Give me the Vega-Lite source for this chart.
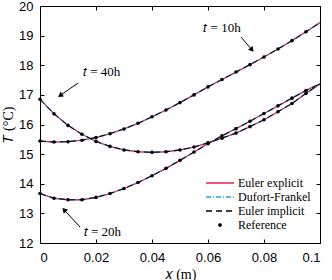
{
  "$schema": "https://vega.github.io/schema/vega-lite/v6.json",
  "width": 280,
  "height": 237,
  "autosize": "none",
  "padding": {"left": 40, "top": 6, "right": 12, "bottom": 37},
  "background": "white",
  "config": {
    "view": {"stroke": "black", "strokeWidth": 1},
    "axis": {
      "domainColor": "black", "tickColor": "black", "labelColor": "black",
      "labelFont": "Liberation Sans", "labelFontSize": 13,
      "titleFont": "Liberation Serif", "titleFontSize": 14, "titleFontWeight": "normal", "titleColor": "black",
      "grid": false, "tickSize": -4, "domainWidth": 1, "tickWidth": 1
    }
  },
  "datasets": {
    "curves": [
      {"t": "10h", "x": 0, "T": 15.44}, {"t": "10h", "x": 0.005, "T": 15.41}, {"t": "10h", "x": 0.01, "T": 15.42}, {"t": "10h", "x": 0.015, "T": 15.47}, {"t": "10h", "x": 0.02, "T": 15.56}, {"t": "10h", "x": 0.025, "T": 15.69}, {"t": "10h", "x": 0.03, "T": 15.85}, {"t": "10h", "x": 0.035, "T": 16.04}, {"t": "10h", "x": 0.04, "T": 16.26}, {"t": "10h", "x": 0.045, "T": 16.49}, {"t": "10h", "x": 0.05, "T": 16.74}, {"t": "10h", "x": 0.055, "T": 17.0}, {"t": "10h", "x": 0.06, "T": 17.27}, {"t": "10h", "x": 0.065, "T": 17.52}, {"t": "10h", "x": 0.07, "T": 17.77}, {"t": "10h", "x": 0.075, "T": 18.02}, {"t": "10h", "x": 0.08, "T": 18.28}, {"t": "10h", "x": 0.085, "T": 18.55}, {"t": "10h", "x": 0.09, "T": 18.83}, {"t": "10h", "x": 0.095, "T": 19.13}, {"t": "10h", "x": 0.1, "T": 19.44},
      {"t": "20h", "x": 0, "T": 13.67}, {"t": "20h", "x": 0.005, "T": 13.51}, {"t": "20h", "x": 0.01, "T": 13.46}, {"t": "20h", "x": 0.015, "T": 13.46}, {"t": "20h", "x": 0.02, "T": 13.54}, {"t": "20h", "x": 0.025, "T": 13.67}, {"t": "20h", "x": 0.03, "T": 13.84}, {"t": "20h", "x": 0.035, "T": 14.04}, {"t": "20h", "x": 0.04, "T": 14.27}, {"t": "20h", "x": 0.045, "T": 14.52}, {"t": "20h", "x": 0.05, "T": 14.79}, {"t": "20h", "x": 0.055, "T": 15.07}, {"t": "20h", "x": 0.06, "T": 15.35}, {"t": "20h", "x": 0.065, "T": 15.62}, {"t": "20h", "x": 0.07, "T": 15.86}, {"t": "20h", "x": 0.075, "T": 16.11}, {"t": "20h", "x": 0.08, "T": 16.37}, {"t": "20h", "x": 0.085, "T": 16.63}, {"t": "20h", "x": 0.09, "T": 16.89}, {"t": "20h", "x": 0.095, "T": 17.15}, {"t": "20h", "x": 0.1, "T": 17.37},
      {"t": "40h", "x": 0, "T": 16.85}, {"t": "40h", "x": 0.005, "T": 16.36}, {"t": "40h", "x": 0.01, "T": 15.97}, {"t": "40h", "x": 0.015, "T": 15.67}, {"t": "40h", "x": 0.02, "T": 15.43}, {"t": "40h", "x": 0.025, "T": 15.26}, {"t": "40h", "x": 0.03, "T": 15.14}, {"t": "40h", "x": 0.035, "T": 15.08}, {"t": "40h", "x": 0.04, "T": 15.06}, {"t": "40h", "x": 0.045, "T": 15.08}, {"t": "40h", "x": 0.05, "T": 15.14}, {"t": "40h", "x": 0.055, "T": 15.24}, {"t": "40h", "x": 0.06, "T": 15.38}, {"t": "40h", "x": 0.065, "T": 15.54}, {"t": "40h", "x": 0.07, "T": 15.71}, {"t": "40h", "x": 0.075, "T": 15.93}, {"t": "40h", "x": 0.08, "T": 16.16}, {"t": "40h", "x": 0.085, "T": 16.43}, {"t": "40h", "x": 0.09, "T": 16.71}, {"t": "40h", "x": 0.095, "T": 17.05}, {"t": "40h", "x": 0.1, "T": 17.37}
    ],
    "notes": [
      {"label": "10h", "text": "𝑡 = 10h", "x": 0.0718, "T": 18.95, "x2": 0.0757, "T2": 18.52, "tx": 0.065, "tT": 19.26},
      {"label": "40h", "text": "𝑡 = 40h", "x": 0.0136, "T": 17.4, "x2": 0.0072, "T2": 16.98, "tx": 0.022, "tT": 17.78},
      {"label": "20h", "text": "𝑡 = 20h", "x": 0.0143, "T": 12.54, "x2": 0.0086, "T2": 13.12, "tx": 0.0223, "tT": 12.37}
    ]
  },
  "resolve": {"axis": {"x": "independent", "y": "independent"}},
  "layer": [
    {
      "data": {"name": "curves"},
      "mark": {"type": "line", "strokeWidth": 1.3},
      "encoding": {
        "x": {"field": "x", "type": "quantitative", "scale": {"domain": [0, 0.1], "nice": false},
          "axis": {"orient": "bottom", "values": [0, 0.02, 0.04, 0.06, 0.08, 0.1], "format": "~g", "title": "𝑥 (m)", "labelPadding": 12, "titlePadding": 3}},
        "y": {"field": "T", "type": "quantitative", "scale": {"domain": [12, 20], "nice": false, "zero": false},
          "axis": {"orient": "left", "values": [12, 13, 14, 15, 16, 17, 18, 19, 20], "format": "d", "title": "𝑇 (°C)", "labelPadding": 11, "titlePadding": 3}},
        "detail": {"field": "t"},
        "color": {"datum": "Euler explicit", "type": "nominal",
          "scale": {"domain": ["Euler explicit", "Dufort-Frankel", "Euler implicit", "Reference"], "range": ["#ee1c4e", "#22a3dd", "#000000", "#000000"]},
          "legend": {
            "title": null, "orient": "none", "legendX": 165, "legendY": 170,
            "labelFont": "Liberation Serif", "labelFontSize": 12, "labelColor": "black", "labelOffset": 3,
            "symbolType": "stroke", "symbolSize": 784, "symbolStrokeWidth": 1.3, "rowPadding": 0, "padding": 0, "clipHeight": 14,
            "encode": {"symbols": {"update": {
              "shape": {"signal": "datum.value === 'Reference' ? 'circle' : 'stroke'"},
              "size": {"signal": "datum.value === 'Reference' ? 6 : 784"},
              "fill": {"signal": "datum.value === 'Reference' ? '#000000' : 'transparent'"},
              "strokeDash": {"signal": "datum.value === 'Dufort-Frankel' ? [5, 2, 1, 2] : datum.value === 'Euler implicit' ? [6, 4] : [1, 0]"}
            }}}
          }}
      }
    },
    {
      "data": {"name": "curves"},
      "mark": {"type": "line", "strokeWidth": 1.4, "strokeDash": [5, 2, 1, 2]},
      "encoding": {
        "x": {"field": "x", "type": "quantitative", "axis": null},
        "y": {"field": "T", "type": "quantitative", "axis": null},
        "detail": {"field": "t"},
        "color": {"datum": "Dufort-Frankel", "type": "nominal"}
      }
    },
    {
      "data": {"name": "curves"},
      "mark": {"type": "line", "strokeWidth": 1, "strokeDash": [6, 4]},
      "encoding": {
        "x": {"field": "x", "type": "quantitative", "axis": null},
        "y": {"field": "T", "type": "quantitative", "axis": null},
        "detail": {"field": "t"},
        "color": {"datum": "Euler implicit", "type": "nominal"}
      }
    },
    {
      "data": {"name": "curves"},
      "transform": [{"filter": "datum.x < 0.099"}],
      "mark": {"type": "circle", "size": 13, "opacity": 1},
      "encoding": {
        "x": {"field": "x", "type": "quantitative",
          "axis": {"orient": "top", "values": [0, 0.02, 0.04, 0.06, 0.08, 0.1], "labels": false, "title": null}},
        "y": {"field": "T", "type": "quantitative",
          "axis": {"orient": "right", "values": [12, 13, 14, 15, 16, 17, 18, 19, 20], "labels": false, "title": null}},
        "color": {"datum": "Reference", "type": "nominal"}
      }
    },
    {
      "data": {"name": "notes"},
      "mark": {"type": "rule", "color": "black", "strokeWidth": 1},
      "encoding": {
        "x": {"field": "x", "type": "quantitative", "axis": null},
        "y": {"field": "T", "type": "quantitative", "axis": null},
        "x2": {"field": "x2"},
        "y2": {"field": "T2"}
      }
    },
    {
      "data": {"name": "notes"},
      "transform": [{"filter": "datum.label === '10h'"}],
      "mark": {"type": "point", "shape": "triangle-up", "filled": true, "color": "black", "size": 35, "angle": 141, "opacity": 1},
      "encoding": {
        "x": {"field": "x2", "type": "quantitative", "axis": null},
        "y": {"field": "T2", "type": "quantitative", "axis": null}
      }
    },
    {
      "data": {"name": "notes"},
      "transform": [{"filter": "datum.label === '40h'"}],
      "mark": {"type": "point", "shape": "triangle-up", "filled": true, "color": "black", "size": 35, "angle": 235, "opacity": 1},
      "encoding": {
        "x": {"field": "x2", "type": "quantitative", "axis": null},
        "y": {"field": "T2", "type": "quantitative", "axis": null}
      }
    },
    {
      "data": {"name": "notes"},
      "transform": [{"filter": "datum.label === '20h'"}],
      "mark": {"type": "point", "shape": "triangle-up", "filled": true, "color": "black", "size": 35, "angle": 316, "opacity": 1},
      "encoding": {
        "x": {"field": "x2", "type": "quantitative", "axis": null},
        "y": {"field": "T2", "type": "quantitative", "axis": null}
      }
    },
    {
      "data": {"name": "notes"},
      "mark": {"type": "text", "font": "Liberation Serif", "fontSize": 13, "color": "black", "align": "center", "baseline": "middle"},
      "encoding": {
        "x": {"field": "tx", "type": "quantitative", "axis": null},
        "y": {"field": "tT", "type": "quantitative", "axis": null},
        "text": {"field": "text"}
      }
    }
  ]
}
